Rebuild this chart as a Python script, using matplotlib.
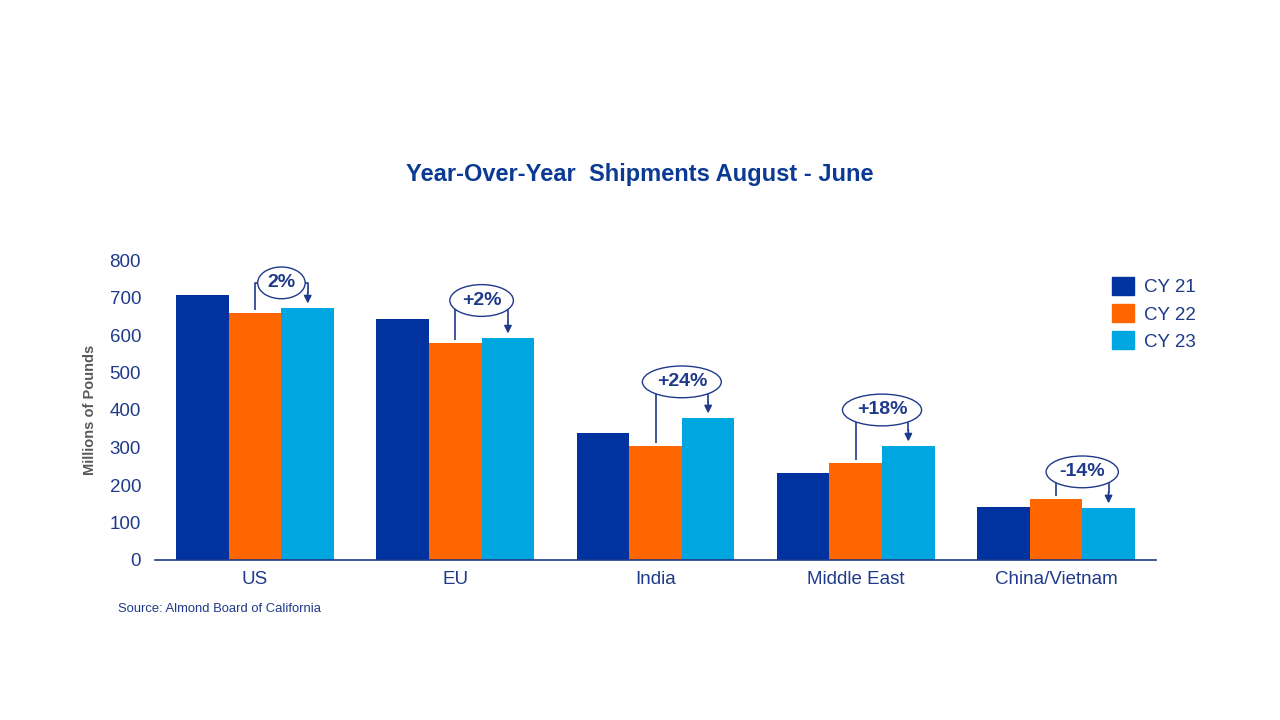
import matplotlib
matplotlib.use('Agg')
from matplotlib import pyplot as plt
from matplotlib.patches import Patch
import numpy as np

regions = ['US', 'EU', 'India', 'Middle East', 'China/Vietnam']
years = ['CY 21', 'CY 22', 'CY 23']
cy21 = [707, 643, 339, 232, 141]
cy22 = [659, 579, 304, 259, 163]
cy23 = [672, 592, 379, 304, 139]
changes = ['2%', '+2%', '+24%', '+18%', '-14%']

colors = ['#0033A0', '#FF6600', '#00A6E0']
navy = '#1F3A8A'
plt.rcParams['font.family'] = ['Liberation Sans', 'DejaVu Sans']

fig = plt.figure(figsize=(12.8, 7.2), dpi=100)
ax = fig.add_axes([155 / 1280, 1 - 560 / 720, 1001 / 1280, 300 / 720])

x = np.arange(len(regions))
w = 0.263
for i, vals in enumerate([cy21, cy22, cy23]):
    ax.bar(x + (i - 1) * w, vals, width=w, color=colors[i], zorder=2)

# bracket annotations CY22 -> CY23
lift = [67, 100, 96, 96, 72]
for i in range(len(regions)):
    x0 = x[i]
    x1 = x[i] + w
    level = max(cy22[i], cy23[i]) + lift[i]
    ax.plot([x0, x0, x1, x1], [cy22[i] + 8, level, level, cy23[i] + 40],
            color=navy, lw=1.2, zorder=3, solid_capstyle='butt')
    ax.annotate('', xy=(x1, cy23[i] + 12), xytext=(x1, cy23[i] + 42),
                arrowprops=dict(arrowstyle='-|>', color=navy, lw=1.2,
                                mutation_scale=11, shrinkA=0, shrinkB=0),
                zorder=3)
    ax.text((x0 + x1) / 2, level, changes[i], ha='center', va='center',
            fontsize=14, fontweight='bold', color=navy, zorder=4,
            bbox=dict(boxstyle='ellipse,pad=0.14', fc='white', ec=navy, lw=1.0))

ax.set_xlim(-0.5, len(regions) - 0.5)
ax.set_ylim(0, 800)
ax.set_yticks(range(0, 801, 100))
ax.set_xticks(x)
ax.set_xticklabels(regions)
for s in ['top', 'right', 'left']:
    ax.spines[s].set_visible(False)
ax.spines['bottom'].set_color(navy)
ax.spines['bottom'].set_linewidth(1.2)
ax.tick_params(axis='both', length=0, labelsize=13.5, labelcolor=navy)
ax.tick_params(axis='x', pad=8)
ax.tick_params(axis='y', pad=10)
ax.set_ylabel('Millions of Pounds', fontsize=10.5, fontweight='bold',
              color='#595959', labelpad=9)

handles = [Patch(color=c) for c in colors]
fig.legend(handles, years, loc='upper left',
           bbox_to_anchor=(1095 / 1280, 1 - 260 / 720), frameon=False,
           fontsize=13.5, labelcolor=navy, handlelength=1.2, handleheight=1.1,
           handletextpad=0.5, labelspacing=0.42)

fig.text(640 / 1280, 1 - 175 / 720, 'Year-Over-Year  Shipments August - June',
         ha='center', va='center', fontsize=17, fontweight='bold', color='#0B3A94')
fig.text(118 / 1280, 1 - 609 / 720, 'Source: Almond Board of California',
         ha='left', va='center', fontsize=9.4, color=navy)

plt.savefig('out.png', dpi=100)
plt.close()
